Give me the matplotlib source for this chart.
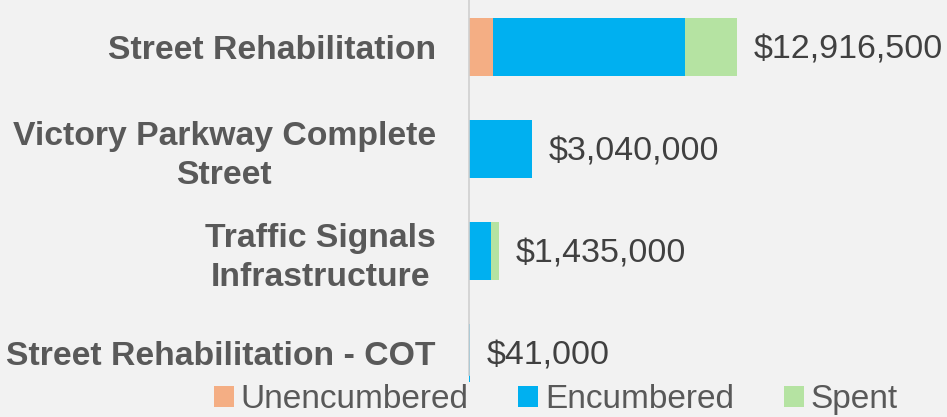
import numpy as np
import matplotlib
matplotlib.use('Agg')
import matplotlib.pyplot as plt

# data #########################################################################
projects = ['Street Rehabilitation', 'Victory Parkway Complete\nStreet',
            'Traffic Signals\nInfrastructure', 'Street Rehabilitation - COT']
unencumbered = np.array([1150000, 0, 0, 0])
encumbered = np.array([9250000, 3040000, 1060000, 41000])
spent = np.array([2516500, 0, 375000, 0])
totals = ['$12,916,500', '$3,040,000', '$1,435,000', '$41,000']

colors = {'Unencumbered': '#f4ae84', 'Encumbered': '#00b0f0', 'Spent': '#b5e3a2'}
bg = '#f2f2f2'

plt.rcParams['font.family'] = ['Liberation Sans', 'DejaVu Sans']

fig = plt.figure(figsize=(9.47, 4.17), dpi=100, facecolor=bg)
ax = fig.add_axes([469 / 947, 13 / 417, 478 / 947, 408 / 417], facecolor=bg)

y = np.arange(len(projects))
h = 0.56
ax.barh(y, unencumbered, h, color=colors['Unencumbered'], label='Unencumbered')
ax.barh(y, encumbered, h, left=unencumbered, color=colors['Encumbered'],
        label='Encumbered')
ax.barh(y, spent, h, left=unencumbered + encumbered, color=colors['Spent'],
        label='Spent')

# total labels to the right of each bar
end = unencumbered + encumbered + spent
for yi, xi, txt in zip(y, end, totals):
    ax.annotate(txt, (xi, yi), xytext=(12, -2), textcoords='offset points',
                va='center', ha='left', fontsize=24.5, color='#404040')

ax.set_xlim(0, 23.0e6)
ax.set_ylim(3.5, -0.5)
ax.set_yticks(y)
ax.set_yticklabels(projects, fontsize=24.3, fontweight='bold', color='#595959',
                   multialignment='center', linespacing=1.3)
ax.tick_params(axis='y', length=0, pad=24)
ax.set_xticks([])
for s in ['top', 'right', 'bottom']:
    ax.spines[s].set_visible(False)
ax.spines['left'].set_color('#d0d0d0')
ax.spines['left'].set_linewidth(1.2)
ax.spines['left'].set_bounds(-0.6, 3.22)

leg = fig.legend(loc='lower left', bbox_to_anchor=(197 / 947, -0.035), ncol=3,
                 frameon=False, fontsize=24, handlelength=0.6, handleheight=0.6,
                 handletextpad=0.2, columnspacing=1.5, borderpad=0)
for t in leg.get_texts():
    t.set_color('#595959')

fig.savefig('out.png', dpi=100, facecolor=bg)
